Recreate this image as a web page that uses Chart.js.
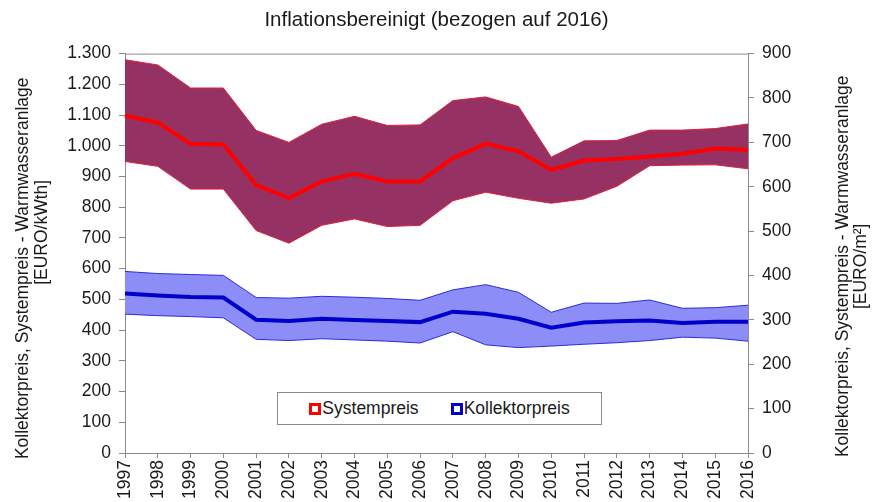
<!DOCTYPE html>
<html>
<head>
<meta charset="utf-8">
<script src="https://cdn.jsdelivr.net/npm/chart.js@4.4.1/dist/chart.umd.min.js"></script>
<style>
  body { margin: 0; background: #fff; }
  #wrap { position: relative; width: 873px; height: 502px; }
  #legend {
    position: absolute; left: 277px; top: 392px; width: 323px; height: 31px;
    border: 1px solid #8a8a8a; background: #fff;
    display: flex; align-items: center; justify-content: center; gap: 32px;
    font-family: "Liberation Sans", Arial, sans-serif; font-size: 17.5px; color: #1a1a1a;
  }
  #legend span.item { display: flex; align-items: center; }
  #legend span.box { width: 6px; height: 6px; border: 3px solid; background: #fff; margin-right: 1px; }
</style>
</head>
<body>
<div id="wrap">
  <canvas id="chart" width="873" height="502"></canvas>
  <div id="legend"></div>
</div>
<script>
// Jahre
const jahre = ['1997','1998','1999','2000','2001','2002','2003','2004','2005','2006',
               '2007','2008','2009','2010','2011','2012','2013','2014','2015','2016'];

// Systempreis (EURO/kWth) - Mittelwert und Bandbreite
const systemMittel = [1098,1076,1006,1004,872,830,884,909,884,884,960,1007,982,922,952,957,965,974,991,987];
const systemMax    = [1280,1263,1188,1188,1050,1011,1070,1096,1066,1068,1147,1159,1128,963,1016,1017,1051,1051,1056,1071];
const systemMin    = [949,933,859,859,724,683,741,762,737,741,821,849,829,813,827,868,935,937,938,925];

// Kollektorpreis - Mittelwert und Bandbreite
const kollektorMittel = [519,513,508,506,434,430,437,433,430,426,460,453,437,408,425,429,431,423,427,427];
const kollektorMax    = [591,584,581,578,506,504,510,507,503,497,531,548,523,458,488,487,498,471,473,481];
const kollektorMin    = [452,447,444,440,370,366,372,368,364,358,395,352,343,348,354,359,366,377,374,364];

const titel = 'Inflationsbereinigt (bezogen auf 2016)';
const titelLinks = ['Kollektorpreis, Systempreis - Warmwasseranlage', '[EURO/kWth]'];
const titelRechts = ['Kollektorpreis, Systempreis - Warmwasseranlage', '[EURO/m²]'];

const FONT = '"Liberation Sans", Arial, sans-serif';
const TEXT = '#1a1a1a';
const AXIS = '#8a8a8a';

function tausender(v) {
    return String(v).replace(/\B(?=(\d{3})+(?!\d))/g, '.');
}

// Rahmen oben und Achsentitel (beide lesen von unten nach oben)
const rahmenPlugin = {
    id: 'rahmen',
    afterDraw(chart) {
        const { ctx, chartArea } = chart;
        ctx.save();
        ctx.strokeStyle = AXIS;
        ctx.lineWidth = 1;
        ctx.beginPath();
        ctx.moveTo(chartArea.left, chartArea.top + 0.5);
        ctx.lineTo(chartArea.right, chartArea.top + 0.5);
        ctx.stroke();

        ctx.fillStyle = TEXT;
        ctx.font = '17.5px ' + FONT;
        ctx.textAlign = 'center';
        ctx.textBaseline = 'middle';
        const mitte = (chartArea.top + chartArea.bottom) / 2;
        const zeile = (text, x, y) => {
            ctx.save();
            ctx.translate(x, y);
            ctx.rotate(-Math.PI / 2);
            ctx.fillText(text, 0, 0);
            ctx.restore();
        };
        zeile(titelLinks[0], 23, mitte + 15);
        zeile(titelLinks[1], 42, mitte - 21);
        zeile(titelRechts[0], 843, mitte + 13);
        zeile(titelRechts[1], 861, mitte + 13);
        ctx.restore();
    }
};

const datasets = [
    { label: 'Systempreis', data: systemMittel, borderColor: '#ff0000', borderWidth: 4, pointRadius: 0, fill: false, tension: 0 },
    { label: 'Kollektorpreis', data: kollektorMittel, borderColor: '#0000cc', borderWidth: 4, pointRadius: 0, fill: false, tension: 0 },
    { label: 'Systempreis max', data: systemMax, borderColor: '#e0203c', borderWidth: 1, pointRadius: 0, fill: 3, backgroundColor: '#953163', tension: 0 },
    { label: 'Systempreis min', data: systemMin, borderColor: '#e0203c', borderWidth: 1, pointRadius: 0, fill: false, tension: 0 },
    { label: 'Kollektorpreis max', data: kollektorMax, borderColor: '#2b2be0', borderWidth: 1, pointRadius: 0, fill: 5, backgroundColor: '#8d8df7', tension: 0 },
    { label: 'Kollektorpreis min', data: kollektorMin, borderColor: '#2b2be0', borderWidth: 1, pointRadius: 0, fill: false, tension: 0 }
];

const chart = new Chart(document.getElementById('chart'), {
    type: 'line',
    data: { labels: jahre, datasets: datasets },
    options: {
        responsive: false,
        animation: false,
        layout: { padding: 0 },
        plugins: {
            legend: { display: false },
            tooltip: { enabled: false },
            filler: { drawTime: 'beforeDatasetsDraw' },
            title: {
                display: true,
                text: titel,
                color: TEXT,
                font: { family: FONT, size: 20.5, weight: 'normal' },
                padding: { top: 8, bottom: 21 }
            }
        },
        scales: {
            x: {
                offset: false,
                grid: { display: true, drawOnChartArea: false, drawTicks: true, tickLength: 5, color: AXIS, offset: false },
                border: { display: true, color: AXIS },
                ticks: {
                    autoSkip: false, minRotation: 90, maxRotation: 90, padding: 2,
                    color: TEXT, font: { family: FONT, size: 17.5 }
                },
                afterFit(s) { s.height = 49; }
            },
            y: {
                position: 'left',
                min: 0, max: 1300,
                grid: { drawOnChartArea: false, drawTicks: true, tickLength: 6, color: AXIS },
                border: { display: true, color: AXIS },
                ticks: {
                    stepSize: 100, padding: 8, color: TEXT,
                    font: { family: FONT, size: 17.5 },
                    callback: v => tausender(v)
                },
                afterFit(s) { s.width = 125; }
            },
            y2: {
                position: 'right',
                display: true,
                min: 0, max: 900,
                grid: { drawOnChartArea: false, drawTicks: true, tickLength: 6, color: AXIS },
                border: { display: true, color: AXIS },
                ticks: {
                    stepSize: 100, padding: 8, color: TEXT,
                    font: { family: FONT, size: 17.5 },
                    callback: v => tausender(v)
                },
                afterFit(s) { s.width = 125; }
            }
        }
    },
    plugins: [rahmenPlugin]
});

// Legende aus den Mittelwert-Reihen
const legende = document.getElementById('legend');
chart.data.datasets.slice(0, 2).forEach(ds => {
    const item = document.createElement('span');
    item.className = 'item';
    item.innerHTML = `<span class="box" style="border-color:${ds.borderColor}"></span>${ds.label}`;
    legende.appendChild(item);
});
</script>
</body>
</html>
